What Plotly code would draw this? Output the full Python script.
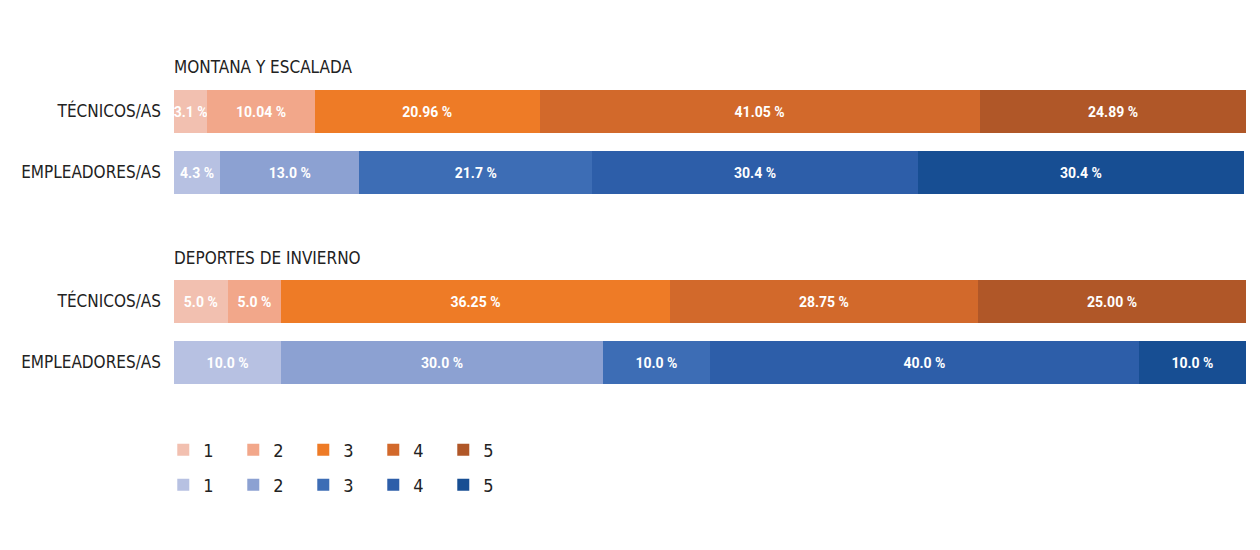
import plotly.graph_objects as go
from plotly.subplots import make_subplots

groups = ["MONTANA Y ESCALADA", "DEPORTES DE INVIERNO"]
rows_labels = ["TÉCNICOS/AS", "EMPLEADORES/AS"]
levels = ["1", "2", "3", "4", "5"]

montana_tec = [3.1, 10.04, 20.96, 41.05, 24.89]
montana_emp = [4.3, 13.0, 21.7, 30.4, 30.4]
deportes_tec = [5.0, 5.0, 36.25, 28.75, 25.00]
deportes_emp = [10.0, 30.0, 10.0, 40.0, 10.0]

montana_tec_txt = ["3.1 %", "10.04 %", "20.96 %", "41.05 %", "24.89 %"]
montana_emp_txt = ["4.3 %", "13.0 %", "21.7 %", "30.4 %", "30.4 %"]
deportes_tec_txt = ["5.0 %", "5.0 %", "36.25 %", "28.75 %", "25.00 %"]
deportes_emp_txt = ["10.0 %", "30.0 %", "10.0 %", "40.0 %", "10.0 %"]

orange = ["#F2C0B0", "#F2A78A", "#EE7B26", "#D2692B", "#B05728"]
blue = ["#B7C1E2", "#8CA1D2", "#3D6DB5", "#2D5EA9", "#174E93"]

FONT = "DejaVu Sans Condensed, Liberation Sans Narrow, sans-serif"
BAR_FONT = "Roboto, DejaVu Sans Condensed, sans-serif"

W, H = 1252, 542
OFF = 8  # page offset


def py(ypix):
    return 1 - (ypix - OFF) / H


fig = make_subplots(rows=2, cols=1, shared_xaxes=False, vertical_spacing=0.1)

data = [
    (montana_tec, montana_tec_txt, montana_emp, montana_emp_txt),
    (deportes_tec, deportes_tec_txt, deportes_emp, deportes_emp_txt),
]

for r, (tec, tec_txt, emp, emp_txt) in enumerate(data, start=1):
    for vals, txts, cols, lg, y in ((tec, tec_txt, orange, "legend", rows_labels[0]),
                                    (emp, emp_txt, blue, "legend2", rows_labels[1])):
        for i, lv in enumerate(levels):
            fig.add_trace(go.Bar(
                x=[vals[i]], y=[y], orientation="h",
                text=[txts[i]], textposition="inside", insidetextanchor="middle",
                textangle=0, constraintext="none",
                textfont=dict(color="white", size=14, family=BAR_FONT, weight="bold"),
                marker=dict(color=cols[i], line=dict(width=0)),
                name=lv, legend=lg, legendgroup=lg + lv, showlegend=(r == 1),
                hoverinfo="skip",
            ), row=r, col=1)

doms = [(py(203), py(81)), (py(393), py(271))]

leg_common = dict(orientation="h", xanchor="left", yanchor="middle", x=-0.01,
                  entrywidth=25, entrywidthmode="pixels", font=dict(size=18),
                  itemwidth=30, traceorder="normal", bgcolor="rgba(0,0,0,0)")

fig.update_layout(
    width=W, height=H,
    margin=dict(l=166, r=14, t=0, b=0),
    barmode="stack", bargap=0.3,
    paper_bgcolor="white", plot_bgcolor="white",
    font=dict(family=FONT, size=17, color="#222222"),
    legend=dict(y=py(450), **leg_common),
    legend2=dict(y=py(485), **leg_common),
)

for r in (1, 2):
    ax = "yaxis" if r == 1 else "yaxis2"
    fig.layout[ax].update(domain=list(doms[r - 1]), categoryorder="array",
                          categoryarray=rows_labels, autorange="reversed",
                          showgrid=False, zeroline=False, showline=False, ticks="",
                          ticklabelstandoff=12, tickfont=dict(size=17, color="#222222"))
    xa = "xaxis" if r == 1 else "xaxis2"
    fig.layout[xa].update(range=[0, 100], showgrid=False, zeroline=False,
                          showline=False, showticklabels=False, ticks="")

for g, ypix in zip(groups, [67, 258]):
    fig.add_annotation(text=g, xref="paper", yref="paper", x=-0.002, y=py(ypix),
                       xanchor="left", yanchor="middle", showarrow=False,
                       font=dict(size=17, color="#222222", family=FONT))

fig.write_html("out.html")
